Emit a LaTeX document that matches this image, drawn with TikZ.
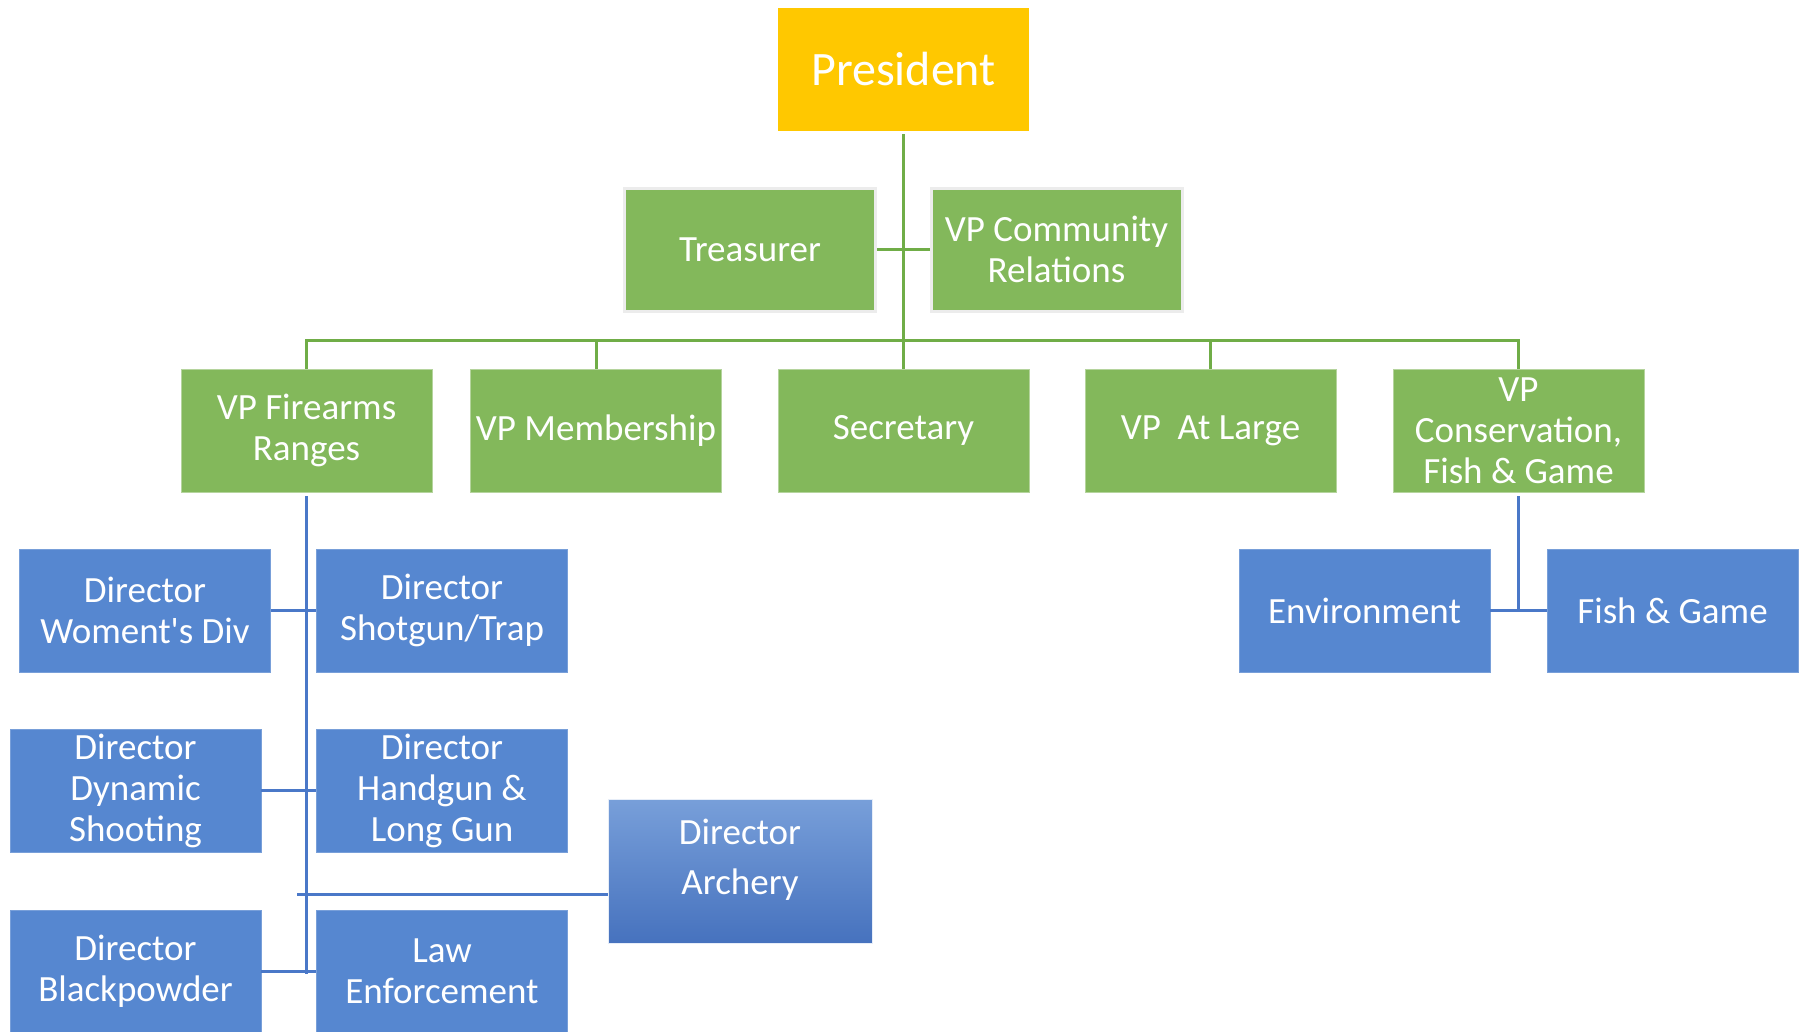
\documentclass[tikz,border=0pt]{standalone}
\usepackage{fontspec}
\setmainfont{Carlito}[Ligatures=TeXOff]
\usepackage{tikz}

\definecolor{presgold}{HTML}{FFC800}
\definecolor{vpgreen}{HTML}{83B85B}
\definecolor{dirblue}{HTML}{5687D0}
\definecolor{linegreen}{HTML}{70AD47}
\definecolor{lineblue}{HTML}{4A78C8}

\begin{document}
\begin{tikzpicture}[x=1pt,y=-1pt,
    box/.style={rectangle,minimum width=251pt,minimum height=123pt,inner sep=0pt,
      align=center,text=white,font=\fontsize{37}{41}\selectfont},
    vp/.style={box,fill=vpgreen,draw=vpgreen!60!white,line width=0.8pt},
    staff/.style={box,fill=vpgreen,draw=gray!15,line width=3pt},
    dir/.style={box,fill=dirblue,draw=dirblue!80!white,line width=0.8pt},
    gline/.style={draw=linegreen,line width=3pt},
    bline/.style={draw=lineblue,line width=3pt}]
   \useasboundingbox (0,0) rectangle (1801,1031);

   % top
   \node[box,fill=presgold,font=\fontsize{48}{52}\selectfont] (pres) at (903.5,69.5) {President};
   \node[staff] (tre) at (750,249.5) {Treasurer};
   \node[staff] (com) at (1056.5,249.5) {VP Community\\Relations};

   % vice presidents
   \node[vp] (fir) at (306.5,430.5) {VP Firearms\\Ranges};
   \node[vp] (mem) at (596,430.5) {VP Membership};
   \node[vp] (sec) at (903.5,430.5) {Secretary};
   \node[vp] (lrg) at (1210.5,430.5) {VP\ \ At Large};
   \node[vp] (con) at (1518.5,430.5) {VP\\Conservation,\\Fish \& Game};

   % directors
   \node[dir] (wom) at (145,610.5) {Director\\Woment's Div};
   \node[dir] (sho) at (442,610.5) {Director\\Shotgun/Trap};
   \node[dir] (dyn) at (135.5,790.5) {Director\\Dynamic\\Shooting};
   \node[dir] (hand) at (442,790.5) {Director\\Handgun \&\\Long Gun};
   \node[dir,minimum width=264pt,minimum height=144pt,draw=white!85!dirblue,
     fill=none,top color=dirblue!80!white,bottom color=lineblue!95!black] (arch) at (740,871)
     {\raisebox{3pt}[0pt][0pt]{\begin{tabular}{@{}c@{}}Director\\[9pt]Archery\end{tabular}}};
   \node[dir] (blk) at (135.5,971.5) {Director\\Blackpowder};
   \node[dir] (law) at (442,971.5) {Law\\Enforcement};
   \node[dir] (env) at (1364.5,610.5) {Environment};
   \node[dir] (fg) at (1672.5,610.5) {Fish \& Game};

   \coordinate (bar) at (903.5,340);
   \coordinate (low) at (306.5,974);
   \coordinate (archtap) at (297,894);

   % green lines
   \draw[gline] ([yshift=-3pt]pres.south) -- (sec.north);
   \draw[gline] (tre.east) -- (com.west);
   \draw[gline] (fir.north) |- (con.north |- bar) -- (con.north);
   \foreach \n in {mem,lrg}
     \draw[gline] (\n.north) -- (\n.north |- bar);

   % blue lines
   \draw[bline] ([yshift=-4pt]fir.south) -- (low);
   \draw[bline] (wom.east) -- (sho.west);
   \draw[bline] (dyn.east) -- (hand.west);
   \draw[bline] (blk.east) -- (law.west);
   \draw[bline] (archtap) -- (archtap -| arch.west);
   \draw[bline] ([yshift=-4pt]con.south) -- (con.south |- env.east);
   \draw[bline] (env.east) -- (fg.west);
 \end{tikzpicture}
\end{document}
